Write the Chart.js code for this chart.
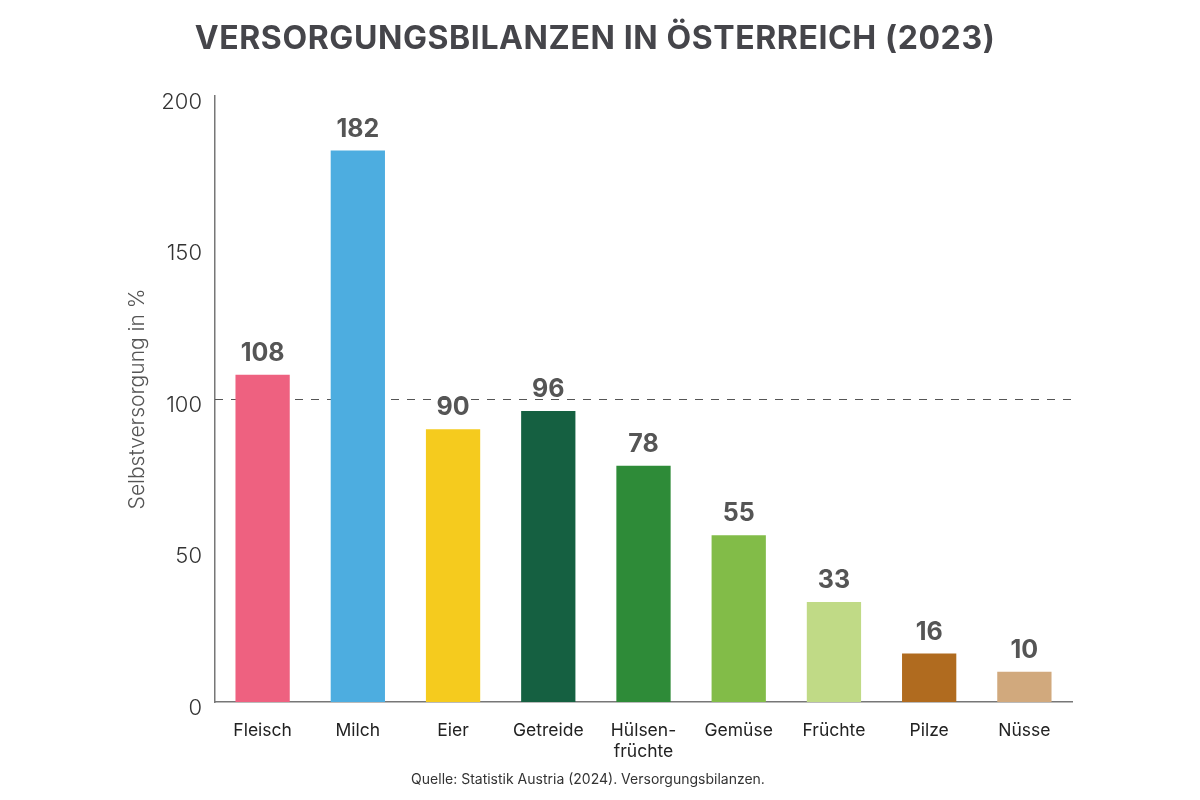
<!DOCTYPE html>
<html>
<head>
<meta charset="utf-8">
<script src="https://cdn.jsdelivr.net/npm/chart.js@4.4.1/dist/chart.umd.min.js"></script>
<style>
  html, body { margin: 0; padding: 0; background: #ffffff; }
  #wrap { width: 1200px; height: 800px; }
</style>
</head>
<body>
<div id="wrap"><canvas id="c" width="1200" height="800"></canvas></div>
<script>
const titleText = "VERSORGUNGSBILANZEN IN ÖSTERREICH (2023)";
const sourceText = "Quelle: Statistik Austria (2024). Versorgungsbilanzen.";
const yAxisTitle = "Selbstversorgung in %";
const categories = ["Fleisch", "Milch", "Eier", "Getreide", ["Hülsen-", "früchte"], "Gemüse", "Früchte", "Pilze", "Nüsse"];
const values = [108, 182, 90, 96, 78, 55, 33, 16, 10];
const barColors = ["#EE6180", "#4DADE0", "#F5CB1E", "#156041", "#2E8B38", "#82BC48", "#C0DA86", "#B06B1F", "#D1A97D"];
const referenceLine = 100;
const yTicks = [0, 50, 100, 150, 200];

const FONT = "Inter, 'Open Sans', sans-serif";

const refLinePlugin = {
  id: 'refLine',
  beforeDatasetsDraw(chart) {
    const {ctx, chartArea, scales} = chart;
    const y = Math.round(scales.y.getPixelForValue(referenceLine)) + 0.5;
    ctx.save();
    ctx.strokeStyle = '#555555';
    ctx.lineWidth = 1;
    ctx.setLineDash([8, 8]);
    ctx.beginPath();
    ctx.moveTo(chartArea.left, y);
    ctx.lineTo(chartArea.right, y);
    ctx.stroke();
    ctx.restore();
  }
};

const valueLabelPlugin = {
  id: 'valueLabels',
  afterDatasetsDraw(chart) {
    const {ctx} = chart;
    const meta = chart.getDatasetMeta(0);
    ctx.save();
    ctx.font = "bold 25px " + FONT;
    ctx.fillStyle = '#555555';
    ctx.textAlign = 'center';
    ctx.textBaseline = 'alphabetic';
    meta.data.forEach((bar, i) => {
      ctx.fillText(String(values[i]), bar.x, bar.y - 14);
    });
    ctx.restore();
  }
};

const textPlugin = {
  id: 'texts',
  afterDraw(chart) {
    const {ctx} = chart;
    ctx.save();
    ctx.fillStyle = '#45454a';
    ctx.textAlign = 'center';
    ctx.textBaseline = 'middle';
    ctx.font = "bold 32px " + FONT;
    if ('letterSpacing' in ctx) ctx.letterSpacing = '0.6px';
    ctx.fillText(titleText, 595, 39);
    if ('letterSpacing' in ctx) ctx.letterSpacing = '0px';
    ctx.fillStyle = '#333333';
    ctx.font = "14px " + FONT;
    ctx.fillText(sourceText, 588, 780);
    ctx.restore();
  }
};

new Chart(document.getElementById('c'), {
  type: 'bar',
  data: {
    labels: categories,
    datasets: [{
      data: values,
      backgroundColor: barColors,
      borderWidth: 0,
      barPercentage: 0.57,
      categoryPercentage: 1.0
    }]
  },
  options: {
    responsive: false,
    animation: false,
    events: [],
    layout: { padding: { left: 0, right: 128, top: 96, bottom: 0 } },
    plugins: {
      legend: { display: false },
      tooltip: { enabled: false },
      title: { display: false }
    },
    scales: {
      x: {
        grid: { display: false },
        border: { display: true, color: '#777777', width: 1.5 },
        ticks: {
          color: '#222222',
          font: { family: FONT, size: 17.5 },
          padding: 10,
          maxRotation: 0,
          autoSkip: false
        },
        afterFit(s) { s.height = 98; }
      },
      y: {
        min: 0,
        max: 200,
        grid: { display: false },
        border: { display: true, color: '#777777', width: 1.5 },
        afterBuildTicks(s) { s.ticks = yTicks.map(v => ({ value: v })); },
        ticks: {
          color: '#333333',
          font: { family: FONT, size: 22, weight: '300' },
          padding: 5,
          labelOffset: 6
        },
        title: {
          display: true,
          text: yAxisTitle,
          color: '#555555',
          font: { family: FONT, size: 21, weight: '300' },
          padding: { top: 125, bottom: 0 }
        },
        afterFit(s) { s.width = 215; }
      }
    }
  },
  plugins: [refLinePlugin, valueLabelPlugin, textPlugin]
});
</script>
</body>
</html>
